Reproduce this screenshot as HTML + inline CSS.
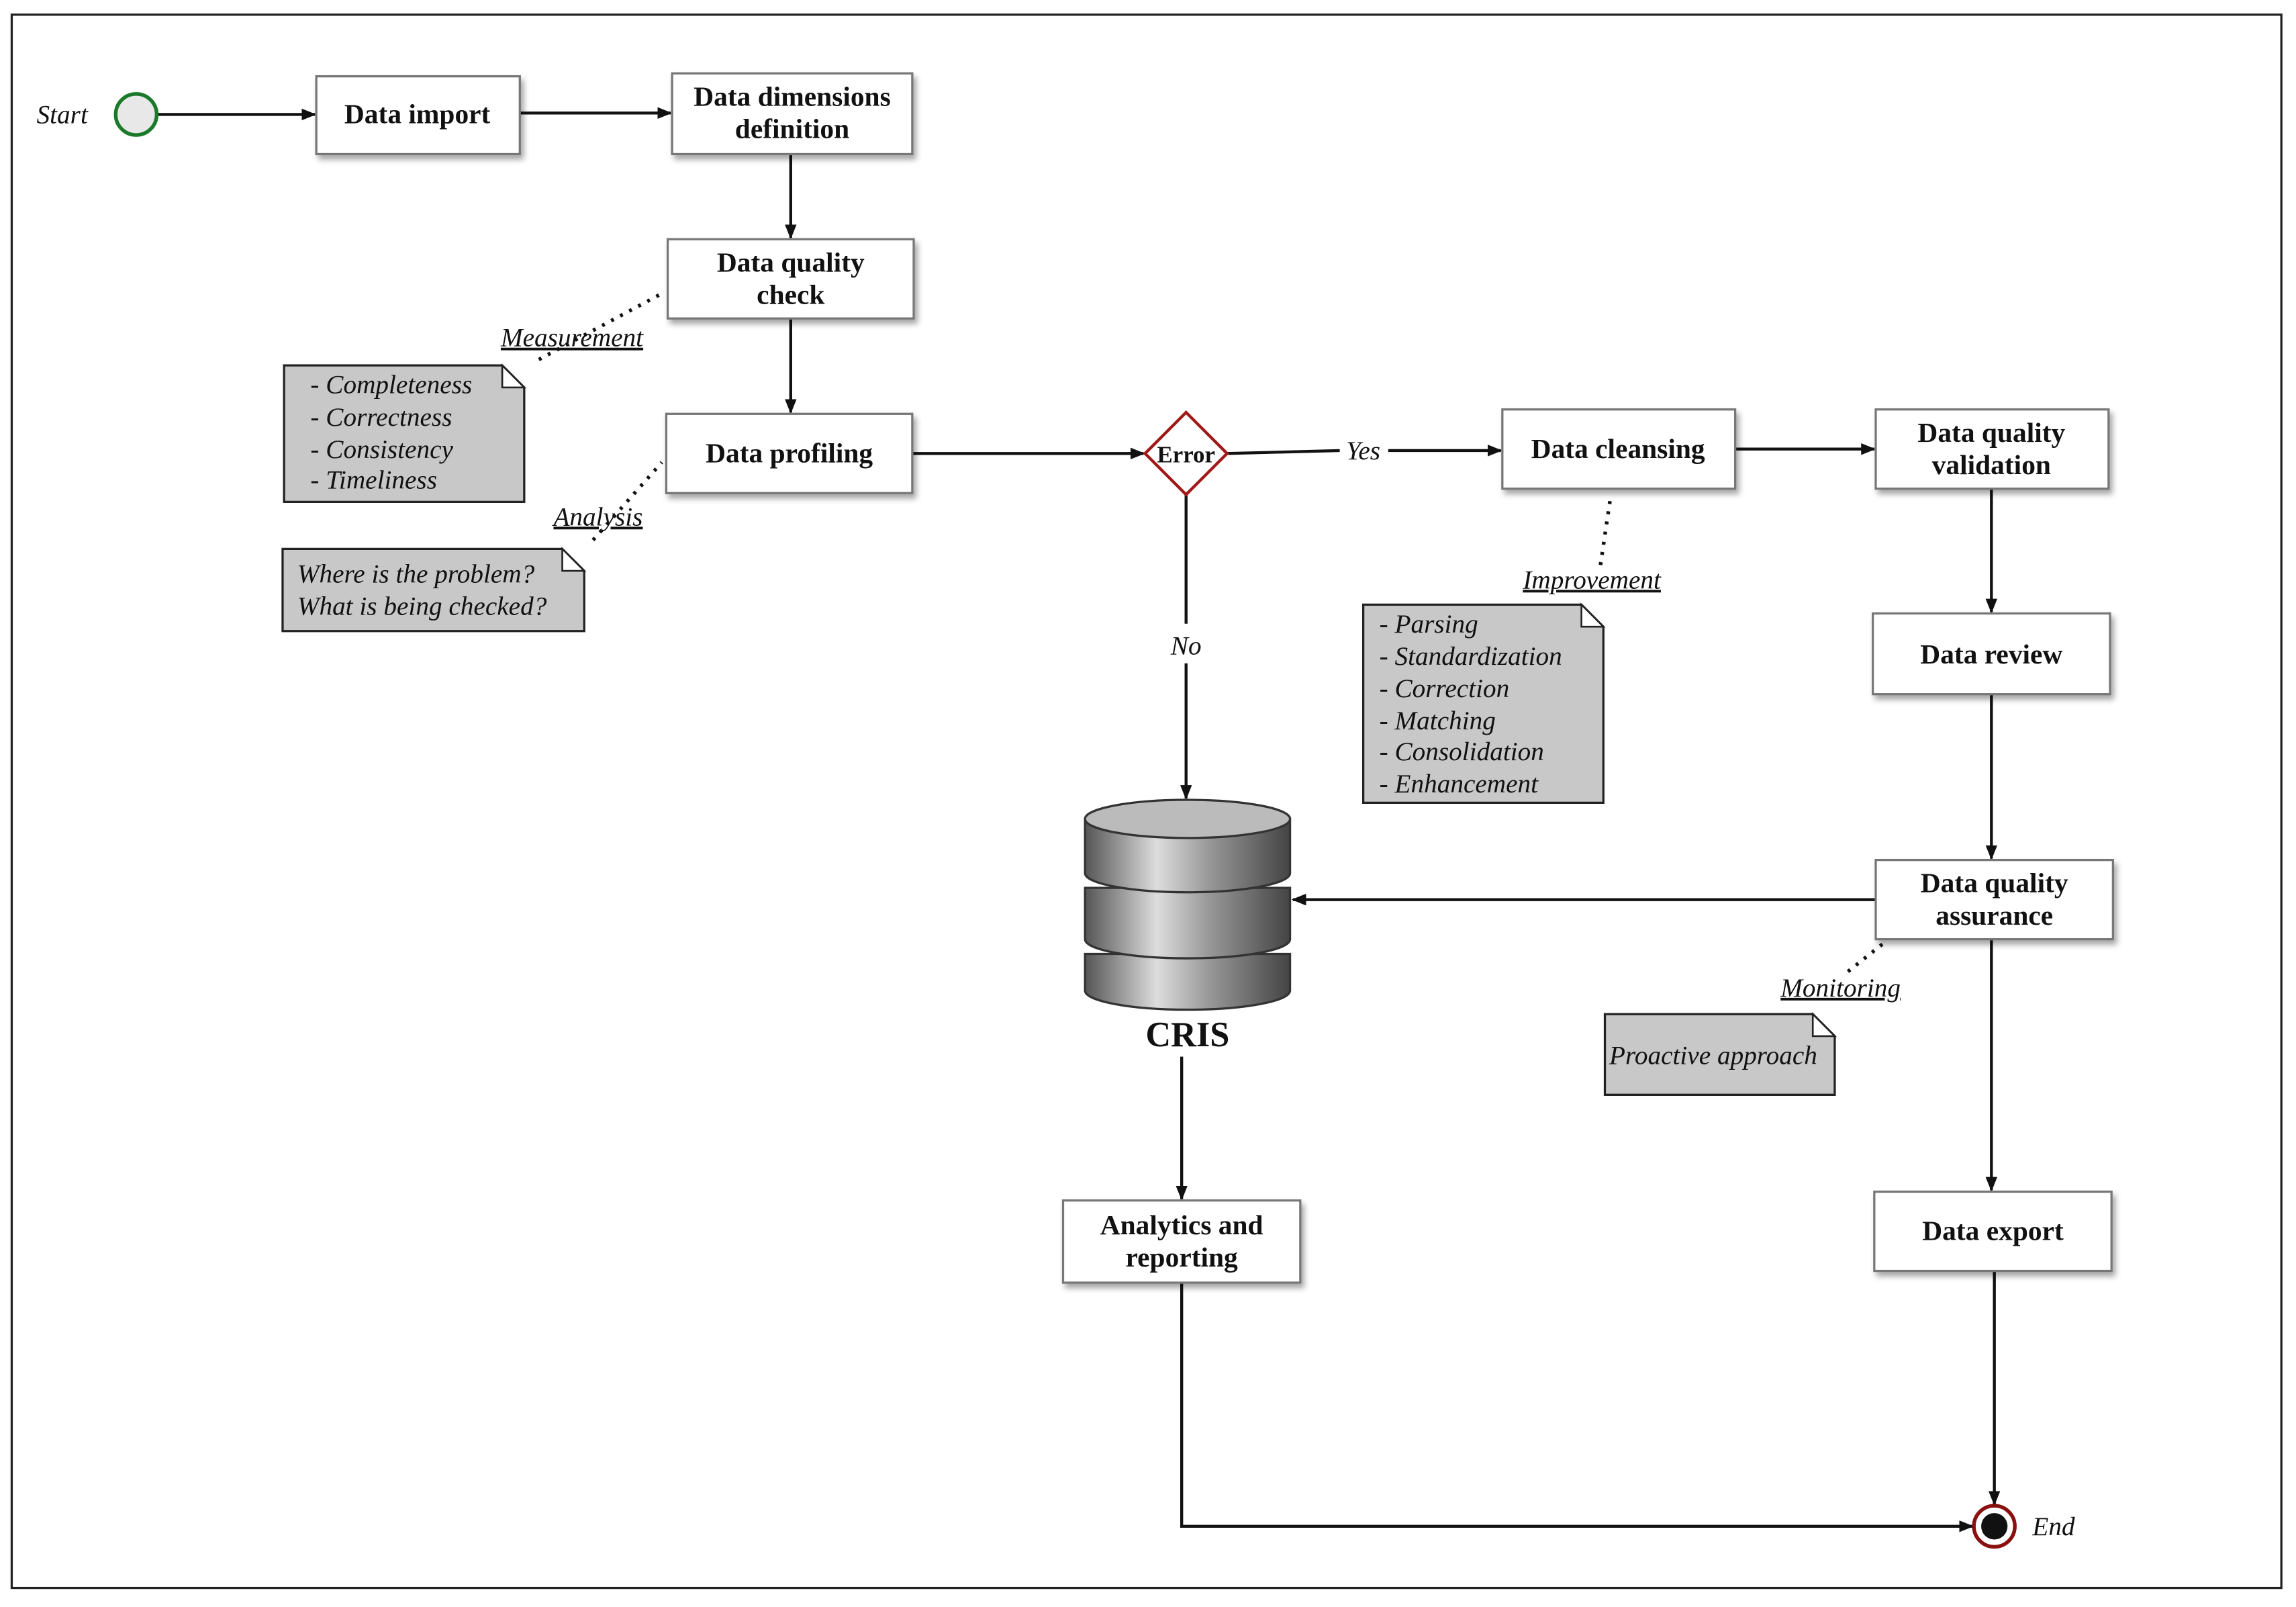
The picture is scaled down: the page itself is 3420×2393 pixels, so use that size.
<!DOCTYPE html>
<html><head><meta charset="utf-8"><style>
html,body{margin:0;padding:0;background:#fff}
svg{display:block}
.b{font-family:"Liberation Serif",serif;font-weight:bold;font-size:19px;fill:#111}
.i{font-family:"Liberation Serif",serif;font-style:italic;font-size:18px;fill:#111}
</style></head><body>
<svg width="3420" height="2393" viewBox="0 0 1568 1095" preserveAspectRatio="none" xmlns="http://www.w3.org/2000/svg">
<defs>
<marker id="a" markerWidth="10" markerHeight="10" refX="9" refY="5" orient="auto" markerUnits="userSpaceOnUse"><path d="M0,1 L10,5 L0,9 z" fill="#111"/></marker>
<linearGradient id="g" x1="0" x2="1"><stop offset="0" stop-color="#555"/><stop offset="0.35" stop-color="#ddd"/><stop offset="0.6" stop-color="#999"/><stop offset="1" stop-color="#444"/></linearGradient>
<filter id="s" x="-10%" y="-10%" width="130%" height="140%"><feDropShadow dx="2" dy="3" stdDeviation="2" flood-color="#000" flood-opacity="0.35"/></filter>
</defs>
<rect x="8" y="10" width="1550" height="1072" fill="none" stroke="#222" stroke-width="1.5"/>
<!-- edges -->
<g stroke="#111" stroke-width="2" fill="none" marker-end="url(#a)">
<line x1="108" y1="78" x2="215" y2="78"/>
<line x1="355" y1="77" x2="458" y2="77"/>
<line x1="540" y1="105" x2="540" y2="162"/>
<line x1="540" y1="217" x2="540" y2="281"/>
<line x1="623" y1="309" x2="781" y2="309"/>
<polyline points="838,309 915,307"  marker-end="none"/>
<line x1="948" y1="307" x2="1025" y2="307"/>
<line x1="1185" y1="306" x2="1280" y2="306"/>
<line x1="1360" y1="333" x2="1360" y2="417"/>
<line x1="1360" y1="473" x2="1360" y2="585"/>
<line x1="1281" y1="613" x2="883" y2="613"/>
<line x1="1360" y1="640" x2="1360" y2="811"/>
<line x1="1362" y1="866" x2="1362" y2="1025"/>
<line x1="810" y1="337" x2="810" y2="425" marker-end="none"/>
<line x1="810" y1="452" x2="810" y2="544"/>
<line x1="807" y1="720" x2="807" y2="817"/>
<polyline points="807,874 807,1040 1347,1040"/>
</g>
<!-- dotted -->
<g stroke="#111" stroke-width="2.5" stroke-dasharray="2,5" fill="none">
<line x1="368" y1="245" x2="452" y2="200"/>
<line x1="405" y1="368" x2="452" y2="315"/>
<line x1="1093" y1="385" x2="1100" y2="338"/>
<line x1="1262" y1="662" x2="1286" y2="643"/>
</g>
<!-- start / end -->
<circle cx="93" cy="78" r="14" fill="#e8e8e8" stroke="#1a7a2a" stroke-width="2.5"/>
<text class="i" x="25" y="84">Start</text>
<circle cx="1362" cy="1040" r="14" fill="#fff" stroke="#8a1010" stroke-width="2.5"/>
<circle cx="1362" cy="1040" r="9" fill="#111"/>
<text class="i" x="1388" y="1046">End</text>
<!-- boxes -->
<g fill="#fff" stroke="#777" stroke-width="1.5" filter="url(#s)">
<rect x="216" y="52" width="139" height="53"/>
<rect x="459" y="50" width="164" height="55"/>
<rect x="456" y="163" width="168" height="54"/>
<rect x="455" y="282" width="168" height="54"/>
<rect x="1026" y="279" width="159" height="54"/>
<rect x="1281" y="279" width="159" height="54"/>
<rect x="1279" y="418" width="162" height="55"/>
<rect x="1281" y="586" width="162" height="54"/>
<rect x="1280" y="812" width="162" height="54"/>
<rect x="726" y="818" width="162" height="56"/>
</g>
<g class="b" text-anchor="middle">
<text x="285" y="84">Data import</text>
<text x="541" y="72">Data dimensions</text><text x="541" y="94">definition</text>
<text x="540" y="185">Data quality</text><text x="540" y="207">check</text>
<text x="539" y="315">Data profiling</text>
<text x="1105" y="312">Data cleansing</text>
<text x="1360" y="301">Data quality</text><text x="1360" y="323">validation</text>
<text x="1360" y="452">Data review</text>
<text x="1362" y="608">Data quality</text><text x="1362" y="630">assurance</text>
<text x="1361" y="845">Data export</text>
<text x="807" y="841">Analytics and</text><text x="807" y="863">reporting</text>
</g>
<!-- diamond -->
<polygon points="810,281 838,309 810,337 782,309" fill="#fff" stroke="#a01818" stroke-width="2"/>
<text class="b" x="810" y="315" text-anchor="middle" style="font-size:16px">Error</text>
<rect x="915" y="297" width="33" height="20" fill="#fff"/>
<text class="i" x="931" y="313" text-anchor="middle">Yes</text>
<text class="i" x="810" y="446" text-anchor="middle">No</text>
<!-- CRIS -->
<g stroke="#333" stroke-width="1.5">
<path d="M741,650 L741,675 A70,13 0 0 0 881,675 L881,650 Z" fill="url(#g)"/>
<path d="M741,605 L741,640 A70,13 0 0 0 881,640 L881,605 Z" fill="url(#g)"/>
<path d="M741,558 L741,595 A70,13 0 0 0 881,595 L881,558 Z" fill="url(#g)"/>
<ellipse cx="811" cy="558" rx="70" ry="13" fill="#bbb"/>
</g>
<text class="b" x="811" y="713" text-anchor="middle" style="font-size:24px">CRIS</text>
<!-- notes -->
<g fill="#c8c8c8" stroke="#222" stroke-width="1.5">
<path d="M194,249 L343,249 L358,264 L358,342 L194,342 Z"/>
<path d="M193,374 L384,374 L399,389 L399,430 L193,430 Z"/>
<path d="M931,412 L1080,412 L1095,427 L1095,547 L931,547 Z"/>
<path d="M1096,691 L1238,691 L1253,706 L1253,746 L1096,746 Z"/>
</g>
<g fill="#fff" stroke="#222" stroke-width="1.2">
<path d="M343,249 L343,264 L358,264 Z"/><path d="M384,374 L384,389 L399,389 Z"/>
<path d="M1080,412 L1080,427 L1095,427 Z"/><path d="M1238,691 L1238,706 L1253,706 Z"/>
</g>
<g class="i">
<text x="212" y="268">- Completeness</text><text x="212" y="290">- Correctness</text><text x="212" y="312">- Consistency</text><text x="212" y="333">- Timeliness</text>
<text x="203" y="397">Where is the problem?</text><text x="203" y="419">What is being checked?</text>
<text x="942" y="431">- Parsing</text><text x="942" y="453">- Standardization</text><text x="942" y="475">- Correction</text><text x="942" y="497">- Matching</text><text x="942" y="518">- Consolidation</text><text x="942" y="540">- Enhancement</text>
<text x="1099" y="725">Proactive approach</text>
<text x="342" y="236" text-decoration="underline">Measurement</text>
<text x="378" y="358" text-decoration="underline">Analysis</text>
<text x="1040" y="401" text-decoration="underline">Improvement</text>
<text x="1216" y="679" text-decoration="underline">Monitoring</text>
</g>
</svg>
</body></html>
